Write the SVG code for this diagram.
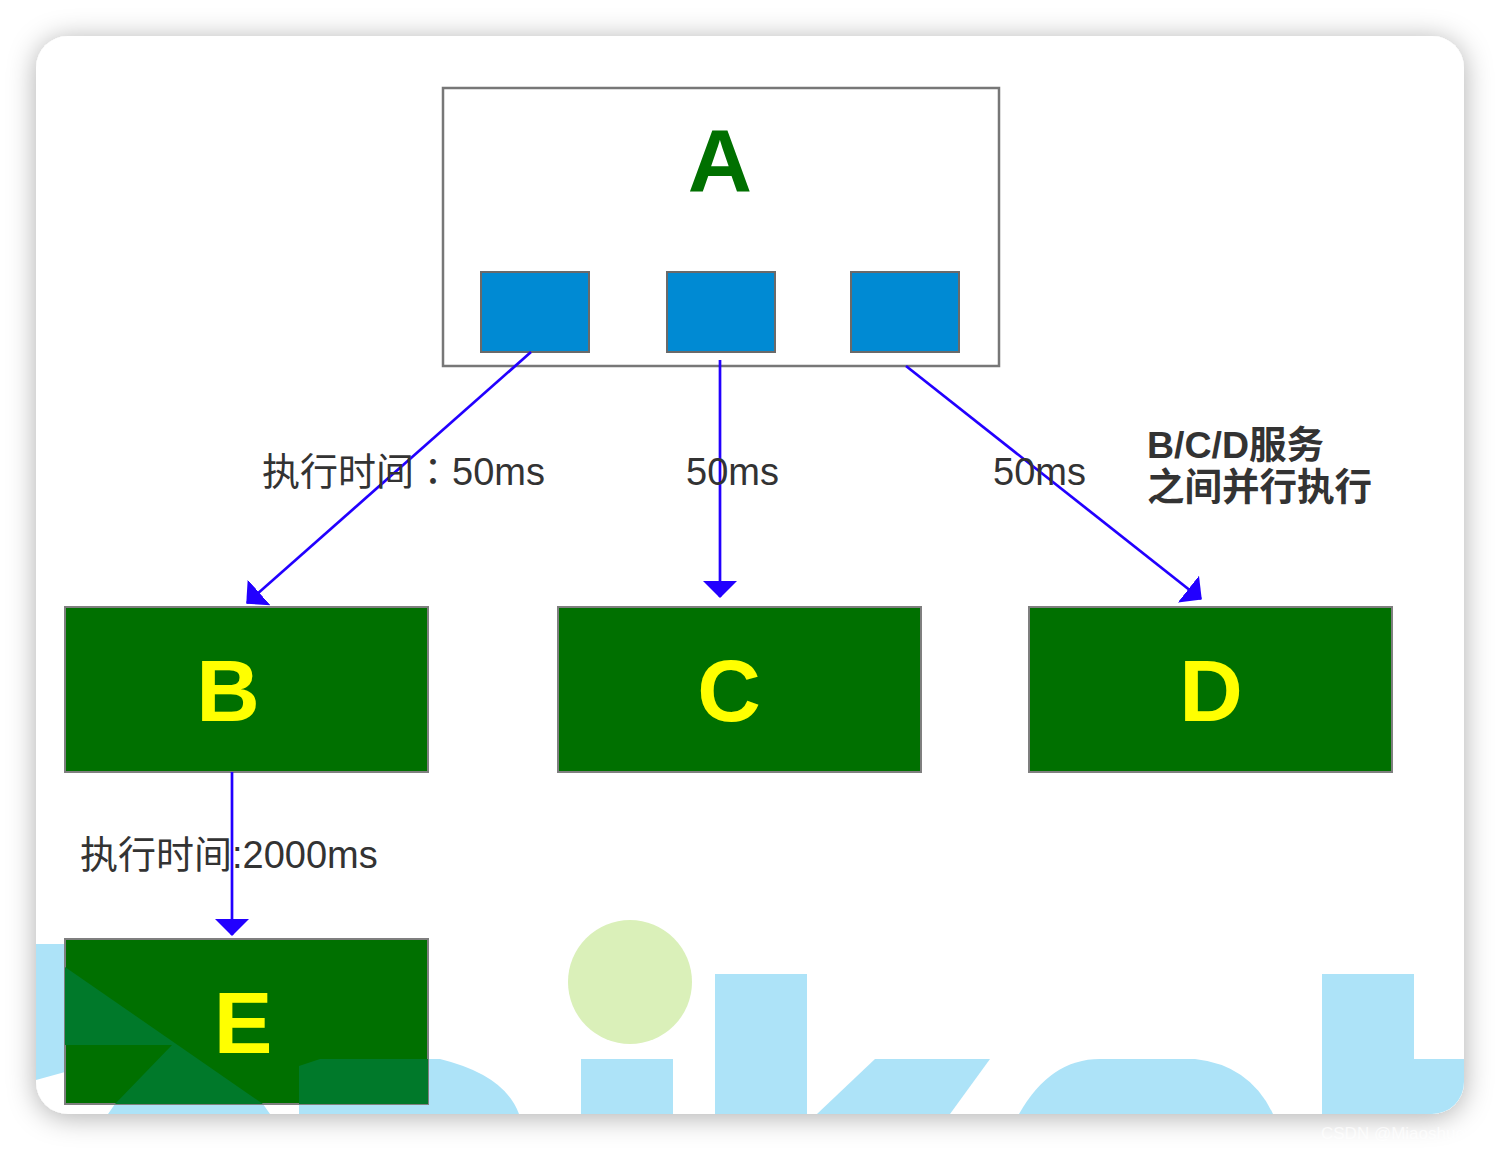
<svg xmlns="http://www.w3.org/2000/svg" width="1500" height="1150" viewBox="0 0 1500 1150">
  <defs>
    <filter id="shadow" x="-10%" y="-10%" width="120%" height="120%">
      <feDropShadow dx="0" dy="3" stdDeviation="14" flood-color="#000" flood-opacity="0.32"/>
    </filter>
    <clipPath id="cardClip">
      <rect x="36" y="36" width="1428" height="1078" rx="32" ry="32"/>
    </clipPath>
    <clipPath id="eClip">
      <rect x="65" y="939" width="363" height="165"/>
    </clipPath>
    <marker id="arrow" viewBox="0 0 17 34" markerWidth="17" markerHeight="34" refX="16" refY="17" orient="auto" markerUnits="userSpaceOnUse">
      <path d="M0,0 L17,17 L0,34 Z" fill="#2200ff"/>
    </marker>
    <g id="wm">
      <path d="M36,944 L65,944 L65,967 L263,1104 L270,1114 L108,1114 L115,1104 L172,1045 L65,1045 L65,1072 L36,1080 Z"/>
      <path d="M299,1066 L320,1059 L440,1059 Q505,1075 519,1114 L299,1114 Z"/>
      <rect x="581" y="1059" width="92" height="60"/>
      <rect x="715" y="974" width="92" height="145"/>
      <path d="M875,1059 L990,1059 L950,1114 L817,1114 Z"/>
      <path d="M1019,1114 Q1050,1059 1100,1059 L1195,1059 Q1250,1065 1273,1114 Z"/>
      <path d="M1322,974 L1414,974 L1414,1059 L1470,1059 L1470,1119 L1322,1119 Z"/>
    </g>
  </defs>
  <style>
    .lbl { font-family: "Liberation Sans", "Noto Sans CJK SC", sans-serif; font-size: 38px; fill: #333333; }
    .note { font-family: "Liberation Sans", "Noto Sans CJK SC", sans-serif; font-size: 37.5px; font-weight: bold; fill: #333333; }
    .node { fill: #007000; stroke: #7f7f7f; stroke-width: 2; }
    .nodeText { font-family: "Liberation Sans", Arial, sans-serif; font-size: 88px; font-weight: bold; fill: #ffff00; text-anchor: middle; }
    .port { fill: #008ad3; stroke: #6a6a6a; stroke-width: 2; }
    .conn { stroke: #2200ff; stroke-width: 2.7; fill: none; marker-end: url(#arrow); }
  </style>

  <rect x="0" y="0" width="1500" height="1150" fill="#ffffff"/>
  <rect x="36" y="36" width="1428" height="1078" rx="32" ry="32" fill="#ffffff" filter="url(#shadow)"/>

  <g id="watermark" clip-path="url(#cardClip)">
    <circle cx="630" cy="982" r="62" fill="#daf0b9"/>
    <use href="#wm" fill="#ade3f8"/>
  </g>

  <g id="node-A">
    <rect x="443" y="88" width="556" height="278" fill="#ffffff" stroke="#777777" stroke-width="2.5"/>
    <text x="720" y="192" font-family="Liberation Sans, Arial, sans-serif" font-size="89" font-weight="bold" fill="#007000" text-anchor="middle">A</text>
    <rect class="port" x="481" y="272" width="108" height="80"/>
    <rect class="port" x="667" y="272" width="108" height="80"/>
    <rect class="port" x="851" y="272" width="108" height="80"/>
  </g>

  <g id="node-B">
    <rect class="node" x="65" y="607" width="363" height="165"/>
    <text class="nodeText" x="228" y="721">B</text>
  </g>
  <g id="node-C">
    <rect class="node" x="558" y="607" width="363" height="165"/>
    <text class="nodeText" x="729" y="721">C</text>
  </g>
  <g id="node-D">
    <rect class="node" x="1029" y="607" width="363" height="165"/>
    <text class="nodeText" x="1211" y="721">D</text>
  </g>
  <g id="node-E">
    <rect class="node" x="65" y="939" width="363" height="165"/>
    <g clip-path="url(#eClip)">
      <use href="#wm" fill="#00792a"/>
    </g>
    <text class="nodeText" x="243" y="1053">E</text>
  </g>

  <g id="connectors">
    <line class="conn" x1="531" y1="352" x2="247" y2="603"/>
    <line class="conn" x1="720" y1="360" x2="720" y2="597"/>
    <line class="conn" x1="906" y1="366" x2="1201" y2="599"/>
    <line class="conn" x1="232" y1="772" x2="232" y2="935"/>
  </g>

  <g id="labels">
    <text class="lbl" x="262" y="485">执行时间<tspan font-family="Noto Sans CJK TC, sans-serif">：</tspan>50ms</text>
    <text class="lbl" x="686" y="485">50ms</text>
    <text class="lbl" x="993" y="485">50ms</text>
    <text class="lbl" x="80" y="868">执行时间:2000ms</text>
    <text class="note" x="1147" y="458">B/C/D服务</text>
    <text class="note" x="1147" y="500">之间并行执行</text>
  </g>

  <text x="1321" y="1139" font-family="Liberation Sans, Arial, sans-serif" font-size="17" fill="#ffffff" fill-opacity="0.7">CSDN @Miaoshuow</text>
</svg>
